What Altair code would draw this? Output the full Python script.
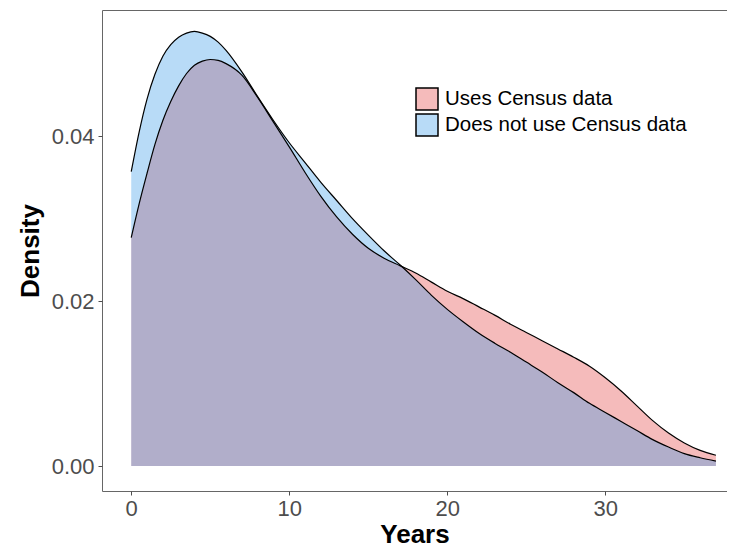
import altair as alt
import pandas as pd

# Years grid
years = [0, 0.5, 1, 1.5, 2, 2.5, 3, 3.5, 4, 4.5, 5, 5.5, 6,
         7, 8, 9, 10, 11, 12, 13, 14, 15, 16, 17, 18, 19, 20,
         21, 22, 23, 24, 25, 26, 27, 28, 29, 30, 31, 32, 33, 34, 35, 36, 37]

# Density: uses Census data
uses_census = [0.0277, 0.0318, 0.0355, 0.0390, 0.0419, 0.0442, 0.0461, 0.0476, 0.0486, 0.0491, 0.0493, 0.0492, 0.0488,
               0.0474, 0.0447, 0.0417, 0.0387, 0.0356, 0.0327, 0.0302, 0.0281, 0.0264, 0.0252, 0.0243, 0.0234, 0.0223, 0.0212,
               0.0203, 0.0193, 0.0183, 0.0172, 0.0162, 0.0152, 0.0142, 0.0132, 0.0121, 0.0107, 0.0091, 0.0073, 0.0055, 0.0040,
               0.0028, 0.0019, 0.0013]

# Density: does not use Census data
not_census = [0.0357, 0.0405, 0.0445, 0.0475, 0.0497, 0.0511, 0.0520, 0.0525, 0.0527, 0.0525, 0.0521, 0.0514, 0.0504,
              0.0478, 0.0448, 0.0419, 0.0392, 0.0368, 0.0344, 0.0322, 0.0300, 0.0280, 0.0261, 0.0244, 0.0226, 0.0207, 0.0190,
              0.0175, 0.0161, 0.0149, 0.0138, 0.0126, 0.0114, 0.0101, 0.0089, 0.0076, 0.0065, 0.0054, 0.0043, 0.0032, 0.0023,
              0.0015, 0.0010, 0.0006]

groups = ["Uses Census data", "Does not use Census data"]
fills = ["rgba(226,60,60,0.35)", "rgba(52,152,232,0.35)"]

df = pd.DataFrame({
    "years": years * 2,
    "density": uses_census + not_census,
    "group": [groups[0]] * len(years) + [groups[1]] * len(years),
})

x = alt.X("years:Q", title="Years",
          scale=alt.Scale(domain=[-1.85, 37.7], nice=False, zero=False),
          axis=alt.Axis(values=[0, 10, 20, 30]))
y = alt.Y("density:Q", title="Density", stack=None,
          scale=alt.Scale(domain=[-0.00303, 0.0553], nice=False, zero=False),
          axis=alt.Axis(values=[0, 0.02, 0.04], format=".2f"))
color = alt.Color("group:N", scale=alt.Scale(domain=groups, range=fills),
                  sort=groups,
                  legend=alt.Legend(title=None, orient="none", legendX=313, legendY=77,
                                    symbolType="square", symbolSize=484,
                                    symbolStrokeColor="black", symbolStrokeWidth=1.5,
                                    symbolOpacity=1, labelLimit=0,
                                    labelFontSize=20.5, labelColor="black",
                                    labelFont="Liberation Sans",
                                    labelOffset=6, rowPadding=-8.5, padding=0))

base = alt.Chart(df)
area_red = base.transform_filter(alt.datum.group == groups[0]).mark_area(
    interpolate="monotone", strokeWidth=0).encode(x=x, y=y, color=color)
area_blue = base.transform_filter(alt.datum.group == groups[1]).mark_area(
    interpolate="monotone", strokeWidth=0).encode(x=x, y=y, color=color)
line_red = base.transform_filter(alt.datum.group == groups[0]).mark_line(
    interpolate="monotone", color="black", strokeWidth=1.2).encode(x=x, y=y)
line_blue = base.transform_filter(alt.datum.group == groups[1]).mark_line(
    interpolate="monotone", color="black", strokeWidth=1.2).encode(x=x, y=y)

chart = alt.layer(area_red, area_blue, line_red, line_blue).properties(
    width=625, height=481,
    autosize=alt.AutoSizeParams(type="none"),
    padding={"left": 94, "top": 2, "right": 0, "bottom": 57},
).configure_view(
    stroke="#666666", strokeWidth=1
).configure_axis(
    grid=False, domain=False,
    labelFont="Liberation Sans", titleFont="Liberation Sans",
    labelFontSize=22, labelColor="#4D4D4D",
    tickColor="#4D4D4D", tickSize=4, tickWidth=1,
    titleFontSize=26, titleFontWeight="bold", titleColor="black",
).configure_axisX(
    labelPadding=3, titleBaseline="alphabetic", titleY=51
).configure_axisY(
    labelPadding=4, titlePadding=8
)

chart.save("out.html", embed_options={"renderer": "svg", "actions": False})
